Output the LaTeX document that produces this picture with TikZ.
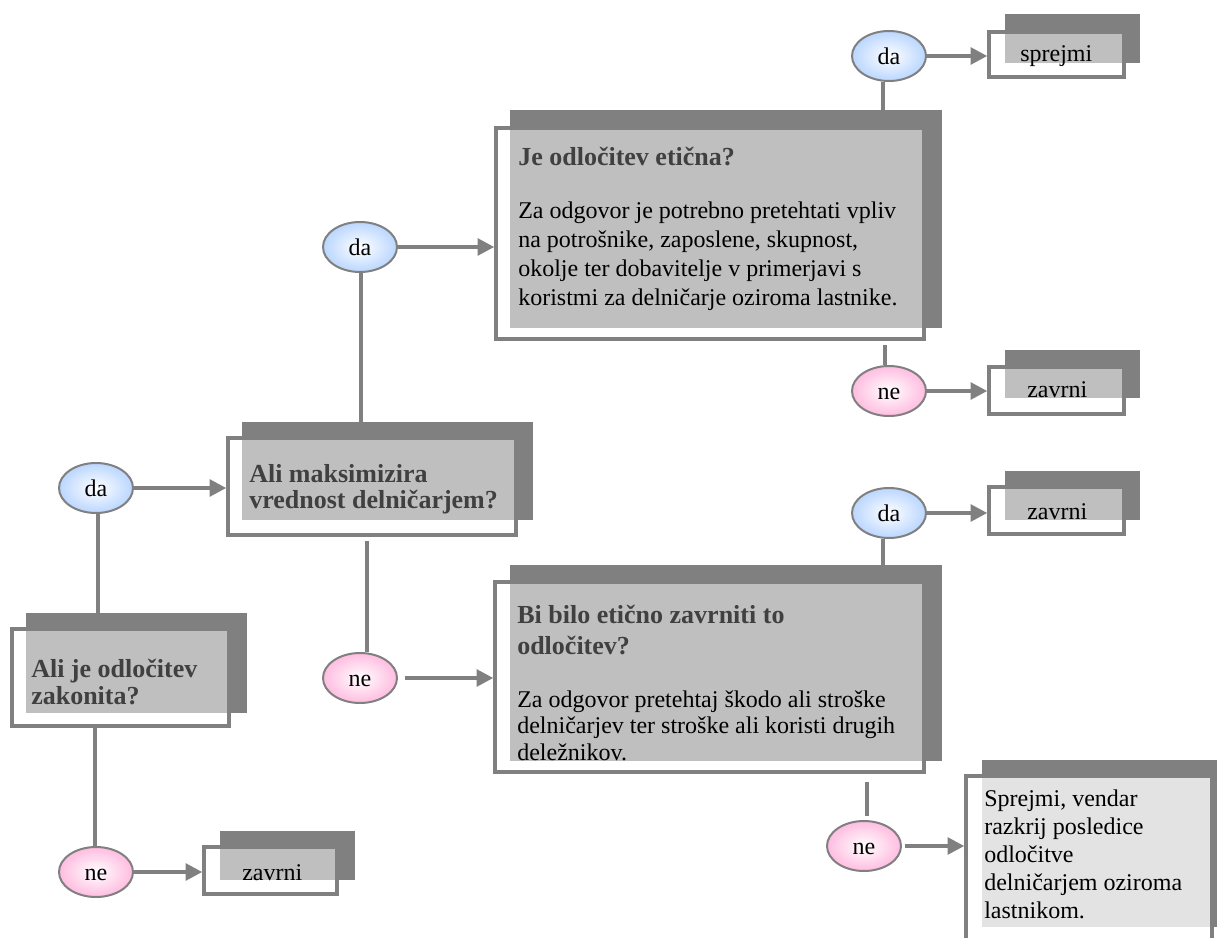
\documentclass[tikz,border=0pt]{standalone}
\usepackage{fontspec}
\setmainfont{Liberation Serif}
\usetikzlibrary{arrows.meta,fit,calc,shapes.geometric}

\definecolor{edge}{RGB}{128,128,128}
\definecolor{headc}{RGB}{64,64,64}
\definecolor{bluerim}{RGB}{186,214,255}
\definecolor{pinkrim}{RGB}{255,188,224}

% first-line strut: puts the baseline 15pt (20 units) below the node top
\newcommand\firstln{\rule{0pt}{15pt}}

\tikzset{
  shadowbox/.style={fill=edge, draw=none, inner sep=0pt},
  framebox/.style={draw=edge, line width=2.6pt, fill=white, fill opacity=0.5, draw opacity=1, inner sep=0pt},
  yesnode/.style={ellipse, draw=edge, line width=1.5pt, inner color=white, outer color=bluerim,
    minimum width=55.5pt, minimum height=37.5pt, inner sep=0pt,
    text height=13pt, text depth=0pt, font=\fontsize{18}{21}\selectfont},
  nonode/.style={yesnode, outer color=pinkrim},
  link/.style={draw=edge, line width=2.8pt},
  arr/.style={link, -{Triangle[length=12.5pt,width=12.5pt]}},
  headtxt/.style={anchor=north west, inner sep=0pt, align=left, text=headc,
    font=\bfseries\fontsize{19.5}{#1}\selectfont},
  bodytxt/.style={anchor=north west, inner sep=0pt, align=left, text=black,
    font=\fontsize{18}{#1}\selectfont},
}

\begin{document}
\begin{tikzpicture}[x=0.75pt, y=-0.75pt]
\useasboundingbox (0,0) rectangle (1217,938);
\clip (0,0) rectangle (1217,938);

% ---------- boxes: shadow, half-transparent frame, text ----------
% Ali je odlocitev zakonita?
\node[shadowbox, fit={(26,613)(247,713)}] (b3sh) {};
\node[framebox, fit={(12,629)(229,726)}] (b3) {};
\node[headtxt=20.25pt] (b3t) at (31,657) {\firstln Ali je odločitev\\zakonita?};

% Ali maksimizira vrednost delnicarjem?
\node[shadowbox, fit={(242,422)(533,520)}] (b2sh) {};
\node[framebox, fit={(228,438)(516,535)}] (b2) {};
\node[headtxt=19.5pt] (b2t) at (249,462) {\firstln Ali maksimizira\\vrednost delničarjem?};

% Je odlocitev eticna?
\node[shadowbox, fit={(510,110)(942,328)}] (b1sh) {};
\node[framebox, fit={(496,128)(924,339)}] (b1) {};
\node[headtxt=21pt] (b1t) at (518,145) {\firstln Je odločitev etična?};
\node[bodytxt=21.75pt] (b1b) at (518,198) {\firstln Za odgovor je potrebno pretehtati vpliv\\
  na potrošnike, zaposlene, skupnost,\\okolje ter dobavitelje v primerjavi s\\
  koristmi za delničarje oziroma lastnike.};

% Bi bilo eticno zavrniti to odlocitev?
\node[shadowbox, fit={(510,565)(942,761)}] (b4sh) {};
\node[framebox, fit={(495,582)(924,772)}] (b4) {};
\node[headtxt=23.25pt] (b4t) at (517,603) {\firstln Bi bilo etično zavrniti to\\odločitev?};
\begin{scope}
  \clip (b4sh.north west) rectangle (b4sh.south east);
  \node[bodytxt=20pt] (b4b) at (517,687) {\firstln Za odgovor pretehtaj škodo ali stroške\\
    delničarjev ter stroške ali koristi drugih\\deležnikov.};
\end{scope}

% Sprejmi, vendar razkrij posledice ...
\node[shadowbox, fit={(982,760)(1230,927)}] (b5sh) {};
\node[framebox, fill opacity=0.78, fit={(966,776)(1212,950)}] (b5) {};
\node[bodytxt=21pt] (b5t) at (984,786) {\firstln Sprejmi, vendar\\razkrij posledice\\odločitve\\
  delničarjem oziroma\\lastnikom.};

% small outcome boxes
\node[shadowbox, fit={(1005,14)(1140,63)}] (s1sh) {};
\node[framebox, fit={(989,32)(1124,77)}] (s1) {};
\node[bodytxt=21pt] (s1t) at (1020,41) {\firstln sprejmi};

\node[shadowbox, fit={(1005,350)(1140,398)}] (z1sh) {};
\node[framebox, fit={(989,367)(1124,414)}] (z1) {};
\node[bodytxt=21pt] (z1t) at (1027,377) {\firstln zavrni};

\node[shadowbox, fit={(1005,471)(1140,520)}] (z2sh) {};
\node[framebox, fit={(989,487)(1124,534)}] (z2) {};
\node[bodytxt=21pt] (z2t) at (1027,499) {\firstln zavrni};

\node[shadowbox, fit={(220,831)(355,880)}] (z3sh) {};
\node[framebox, fit={(204,847)(337,894)}] (z3) {};
\node[bodytxt=21pt] (z3t) at (242,860) {\firstln zavrni};

% ---------- decision ellipses ----------
\node[yesnode] (da1) at (889,56) {da};
\node[nonode]  (ne1) at (889,391) {ne};
\node[yesnode] (da4) at (889,513) {da};
\node[nonode]  (ne4) at (864,846) {ne};
\node[yesnode] (da2) at (360,247) {da};
\node[nonode]  (ne2) at (360,678) {ne};
\node[yesnode] (da3) at (96,488) {da};
\node[nonode]  (ne3) at (96,872) {ne};

% ---------- connectors ----------
\draw[arr] (da3.east) -- (da3.east -| b2.west);
\draw[link] ($(da3.south)+(2,0)$) coordinate (c1) -- (c1 |- b3sh.north);
\draw[link] ($(ne3.north)+(-1,0)$) coordinate (c2) -- (c2 |- b3.south);
\draw[arr] (ne3.east) -- (ne3.east -| z3.west);

\draw[arr] (da2.east) -- (da2.east -| b1.west);
\draw[link] ($(da2.south)+(1,0)$) coordinate (c3) -- (c3 |- b2sh.north);
\draw[link, shorten >=3pt] ($(ne2.north)+(7,0)$) coordinate (c4) -- (c4 |- b2.south);
\draw[arr, shorten <=5pt] (ne2.east) -- (ne2.east -| b4.west);

\draw[arr] (da1.east) -- (da1.east -| s1.west);
\draw[link] ($(da1.south)+(-6,0)$) coordinate (c5) -- (c5 |- b1sh.north);
\draw[link, shorten >=3pt] ($(ne1.north)+(-4,0)$) coordinate (c6) -- (c6 |- b1.south);
\draw[arr] (ne1.east) -- (ne1.east -| z1.west);

\draw[arr] (da4.east) -- (da4.east -| z2.west);
\draw[link] ($(da4.south)+(-6,0)$) coordinate (c7) -- (c7 |- b4sh.north);
\draw[link, shorten <=3pt, shorten >=6pt] ($(ne4.north)+(3,0)$) coordinate (c8) -- (c8 |- b4.south);
\draw[arr, shorten <=2pt] (ne4.east) -- (ne4.east -| b5.west);
\end{tikzpicture}
\end{document}
